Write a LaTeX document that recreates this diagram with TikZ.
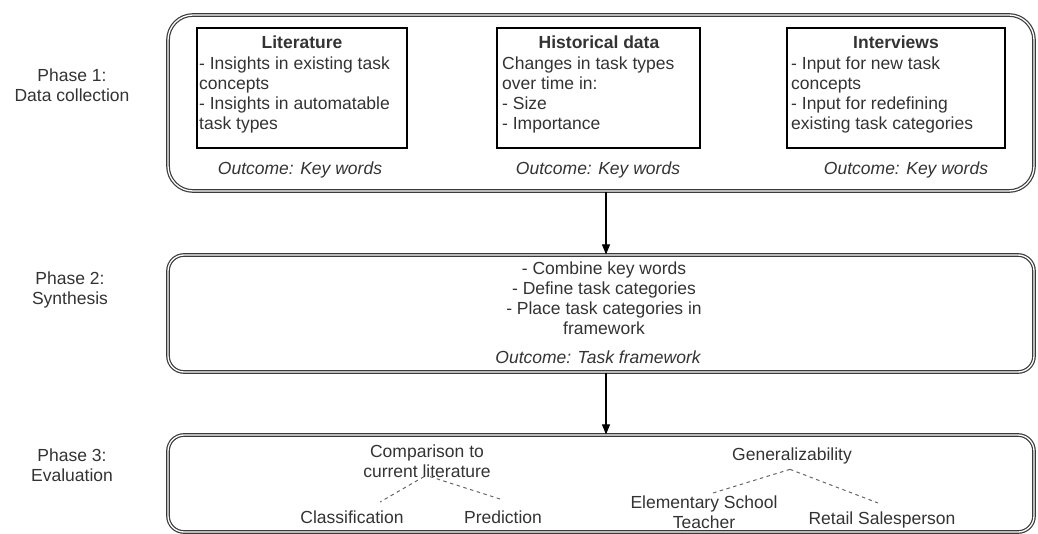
\documentclass[tikz,border=0pt]{standalone}
\usepackage{fontspec}
\setmainfont{Liberation Sans}
\usetikzlibrary{arrows.meta}
\definecolor{txt}{HTML}{333333}
\definecolor{frame}{HTML}{3A3A3A}
\begin{document}
\begin{tikzpicture}[x=1pt,y=-1pt,
  every node/.style={text=txt, font=\fontsize{17.5}{20}\selectfont, inner sep=0pt},
  phasebox/.style={draw=frame, double=white, line width=1.2pt, double distance=1.3pt, rounded corners=#1},
  inbox/.style={draw=black, line width=1.1pt},
  lbl/.style={align=center},
  ttl/.style={font=\fontsize{17.5}{20}\selectfont\bfseries},
  bodytxt/.style={align=left, anchor=north west},
  outc/.style={font=\fontsize{17.5}{20}\selectfont\itshape},
  flow/.style={draw=black, line width=1.1pt, -{Triangle[length=10pt,width=8pt]}},
  dashlink/.style={draw=txt!75, dash pattern=on 3.5pt off 3.5pt, line width=1pt}
]
\useasboundingbox (0,0) rectangle (1038,534);

% phase containers
\node[phasebox=25pt, minimum width=866pt, minimum height=176pt] (p1) at (601,103) {};
\node[phasebox=16pt, minimum width=866pt, minimum height=117pt] (p2) at (601,313.5) {};
\node[phasebox=16pt, minimum width=866pt, minimum height=97pt] (p3) at (601,483.5) {};

% phase labels
\node[lbl] (l1) at (72,85) {Phase 1:\\Data collection};
\node[lbl] (l2) at (70,290) {Phase 2:\\Synthesis};
\node[lbl] (l3) at (72,465) {Phase 3:\\Evaluation};

% phase 1 inner boxes
\node[inbox, minimum width=210pt, minimum height=120pt] (lit) at (302,88) {};
\node[inbox, minimum width=203pt, minimum height=120pt] (hist) at (598.5,88) {};
\node[inbox, minimum width=218pt, minimum height=120pt] (intv) at (896,88) {};

\node[ttl] (litt) at (302,42) {Literature};
\node[ttl] (histt) at (599,42) {Historical data};
\node[ttl] (intvt) at (896,42) {Interviews};

\node[bodytxt] (litb) at (199,57) {- Insights in existing task\\concepts\\- Insights in automatable\\task types};
\node[bodytxt] (histb) at (502,57) {Changes in task types\\over time in:\\- Size\\- Importance};
\node[bodytxt] (intvb) at (791,57) {- Input for new task\\concepts\\- Input for redefining\\existing task categories};

\node[outc] (o1) at (300,170) {Outcome: Key words};
\node[outc] (o2) at (598,170) {Outcome: Key words};
\node[outc] (o3) at (906,170) {Outcome: Key words};

% phase 2 content
\node[align=center] (syn) at (604,298) {- Combine key words\\- Define task categories\\- Place task categories in\\framework};
\node[outc] (o4) at (598,357) {Outcome: Task framework};

% phase 3 content
\node[align=center] (cmp) at (427,461) {Comparison to\\current literature};
\node (cls) at (352,517) {Classification};
\node (prd) at (503,517) {Prediction};
\node (gen) at (792,456) {Generalizability};
\node[align=center] (ele) at (704,512) {Elementary School\\Teacher};
\node (ret) at (882,520) {Retail Salesperson};

% arrows between phases
\coordinate (ax) at (606,0);
\draw[flow] (ax |- p1.south) -- (ax |- p2.north);
\draw[flow] (ax |- p2.south) -- (ax |- p3.north);

% dashed tree links
\coordinate (clsend) at (380,502);
\coordinate (prdend) at (500,499);
\coordinate (eleend) at (713,493);
\coordinate (retend) at (878,503);
\draw[dashlink] ([xshift=-3pt,yshift=1pt]cmp.south) -- (clsend);
\draw[dashlink] ([xshift=3pt,yshift=1pt]cmp.south) -- (prdend);
\draw[dashlink] ([xshift=-2pt,yshift=-5pt]gen.south) -- (eleend);
\draw[dashlink] ([xshift=-2pt,yshift=-5pt]gen.south) -- (retend);
\end{tikzpicture}
\end{document}
